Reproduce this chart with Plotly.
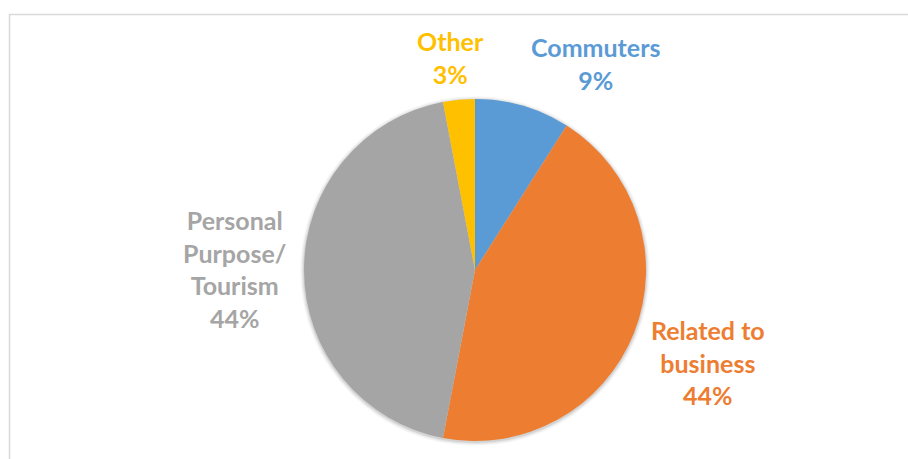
import plotly.graph_objects as go

# Traveller purpose shares (percent)
categories = ["Commuters", "Related to business", "Personal Purpose/Tourism", "Other"]
values = [9, 44, 44, 3]
label_lines = [["Commuters"], ["Related to", "business"], ["Personal", "Purpose/", "Tourism"], ["Other"]]
colors = ["#5B9BD5", "#ED7D31", "#A5A5A5", "#FFC000"]

W, H = 908, 459
cx, cy, r = 475, 270, 171

fig = go.Figure(
    go.Pie(
        labels=categories,
        values=values,
        sort=False,
        direction="clockwise",
        rotation=0,
        marker=dict(colors=colors, line=dict(width=0)),
        textinfo="none",
        hoverinfo="label+percent",
        showlegend=False,
        domain=dict(x=[(cx - r) / W, (cx + r) / W], y=[(H - cy - r) / H, (H - cy + r) / H]),
    )
)

# soft drop shadow beneath the pie
for k, a in [(4, 0.025), (3, 0.035), (2, 0.05), (1, 0.07)]:
    fig.add_shape(
        type="circle", xref="paper", yref="paper", layer="below",
        x0=(cx - r - k) / W, x1=(cx + r + k) / W,
        y0=(H - cy - r - k - 1) / H, y1=(H - cy + r + k - 1) / H,
        line=dict(width=0), fillcolor=f"rgba(0,0,0,{a})",
    )

# label block centres in pixels (x, y)
label_pos = {
    "Commuters": (595, 63.5),
    "Related to business": (708, 362),
    "Personal Purpose/Tourism": (234, 268.5),
    "Other": (450, 57.5),
}

total = sum(values)
for cat, val, lines, col in zip(categories, values, label_lines, colors):
    px, py = label_pos[cat]
    text = "<br>".join(lines + [f"{round(100 * val / total)}%"])
    fig.add_annotation(
        x=px / W, y=1 - py / H, xref="paper", yref="paper",
        text=text, showarrow=False, align="center",
        xanchor="center", yanchor="middle",
        font=dict(family="Lato", size=25, color=col, weight="bold"),
    )

# chart-area border
fig.add_shape(
    type="rect", xref="paper", yref="paper",
    x0=9.5 / W, x1=1.02, y0=-0.02, y1=1 - 14.5 / H,
    line=dict(color="#D9D9D9", width=1.5), fillcolor="rgba(0,0,0,0)",
)

fig.update_layout(
    width=W, height=H,
    margin=dict(l=0, r=0, t=0, b=0),
    paper_bgcolor="white", plot_bgcolor="white",
)

fig.write_html("out.html")
